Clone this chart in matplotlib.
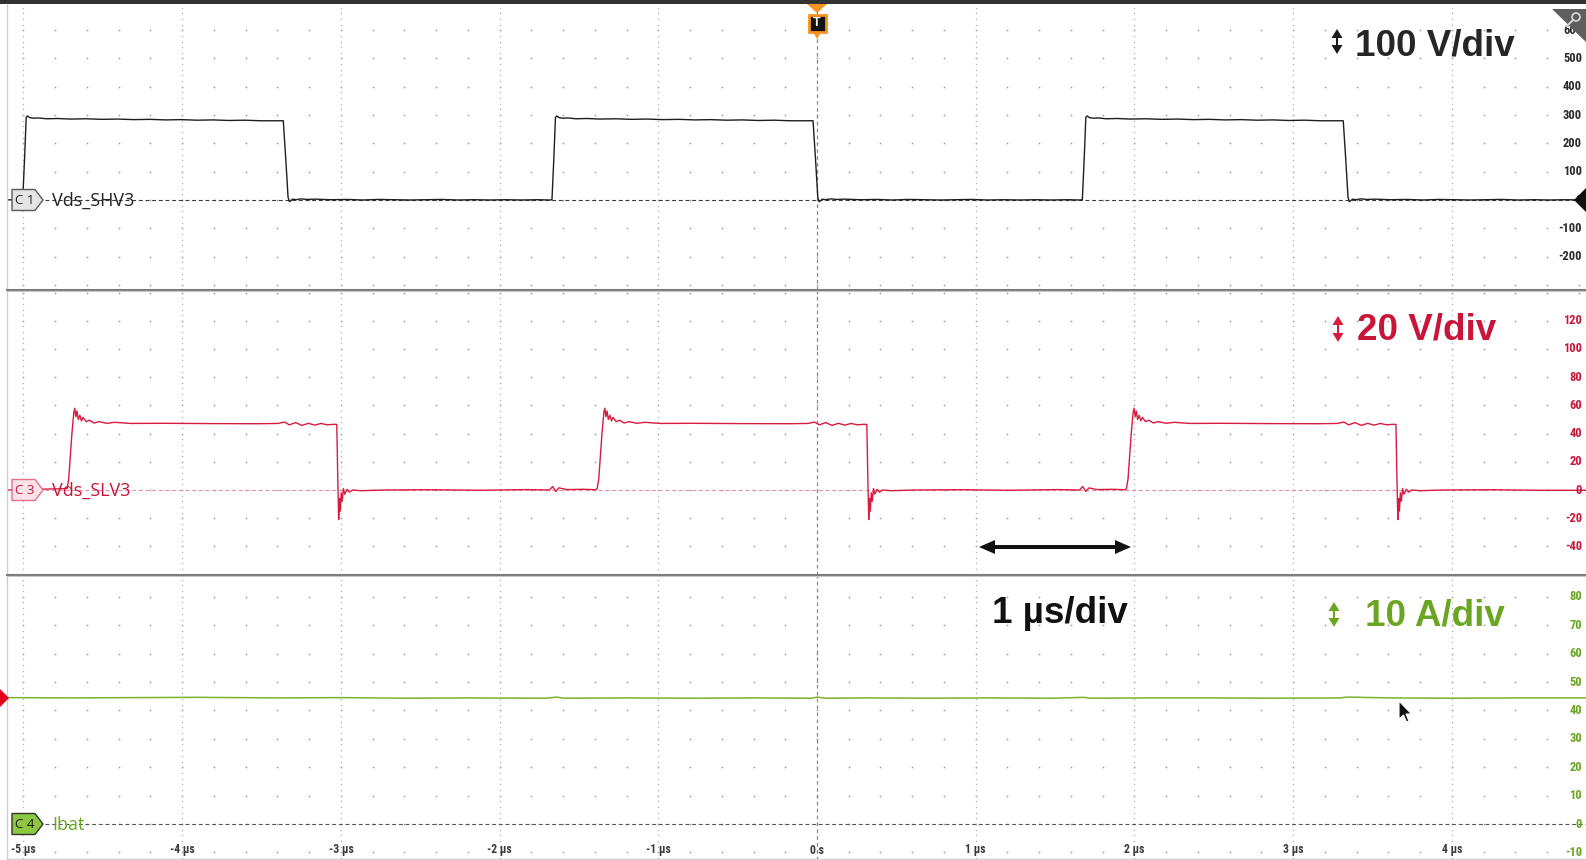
import numpy as np
import matplotlib
matplotlib.use('Agg')
import matplotlib.pyplot as plt
from matplotlib import font_manager, transforms
from matplotlib.patches import Polygon, Rectangle, Circle

# ---------------- data ----------------
x_tick_values_us = [-5, -4, -3, -2, -1, 0, 1, 2, 3, 4]
x_tick_labels = ['-5 µs', '-4 µs', '-3 µs', '-2 µs', '-1 µs', '0 s', '1 µs', '2 µs', '3 µs', '4 µs']

# C1  Vds_SHV3  (V)
c1_rise_times = [-5.005, -1.670, 1.672]
c1_fall_times = [-3.363, -0.025, 3.316]
c1_high_dt = [0.0, 0.012, 0.022, 0.03, 0.045, 0.07, 0.1, 0.15, 0.22, 0.3, 0.4, 0.5, 0.6,
              0.7, 0.8, 0.9, 1.0, 1.1, 1.2, 1.3, 1.4, 1.5, 1.6]
c1_high_v = [1, 150, 292, 297, 291, 289, 290, 287, 288, 286, 287, 285, 286,
             284, 285, 283, 284, 282, 283, 281, 282, 280, 280]
c1_low_dt = [0.0, 0.015, 0.03, 0.038, 0.048, 0.06, 0.08, 0.11, 0.15, 0.2, 0.3, 0.4, 0.5,
             0.6, 0.7, 0.8, 0.9, 1.0, 1.1, 1.2, 1.3, 1.4, 1.5, 1.6, 1.68]
c1_low_v = [280, 150, 10, -6, -2, 3, 1, 4, 2, 3, 1, 2, 0,
            2, 1, 0, 1, 2, 0, 1, 0, 1, 0, 1, 0]
c1_start_level = 0.5
c1_ticks = [600, 500, 400, 300, 200, 100, 0, -100, -200]

# C3  Vds_SLV3  (V)
c3_rise_times = [-4.725, -1.385, 1.950]
c3_fall_times = [-3.026, 0.314, 3.648]
c3_high_dt = [0.0, 0.01, 0.03, 0.042, 0.048, 0.055, 0.062, 0.07, 0.08, 0.09, 0.1, 0.12,
              0.14, 0.17, 0.2, 0.25, 0.3, 0.4, 0.6, 0.9, 1.2, 1.33, 1.37, 1.40, 1.44,
              1.48, 1.52, 1.56, 1.60, 1.64, 1.68]
c3_high_v = [1, 8, 40, 55, 58, 52, 56, 50, 53, 49, 51.5, 48.5,
             49.5, 47.5, 48.5, 47.3, 48, 47.2, 47.3, 47.1, 47.0, 47.2, 48.2, 46.2, 47.8,
             45.8, 47.3, 46.0, 47.2, 46.2, 46.6]
c3_low_dt = [0.0, 0.006, 0.012, 0.017, 0.022, 0.028, 0.034, 0.042, 0.05, 0.065, 0.08, 0.1,
             0.15, 0.3, 0.6, 0.9, 1.2, 1.34, 1.36, 1.38, 1.40, 1.45, 1.55, 1.63]
c3_low_v = [46.5, 10, -21, -6, -15, -2, -8, 1, -3, 0.5, -1.5, 0,
            -0.5, 0, 0.2, -0.2, 0.3, 0, 2.5, -1, 1.5, 0.3, 0.5, 0.2]
c3_start_level = 0.0
c3_ticks = [120, 100, 80, 60, 40, 20, 0, -20, -40]

# C4  Ibat  (A)
c4_t = [-5.1, -4.7, -4.3, -3.9, -3.4, -3.0, -2.6, -2.2, -1.7, -1.64, -1.6, -1.2, -0.8, -0.4,
        -0.03, 0.0, 0.05, 0.3, 0.7, 1.1, 1.5, 1.68, 1.72, 2.1, 2.5, 2.9, 3.3, 3.34, 3.6, 4.0,
        4.4, 4.85]
c4_i = [44.5, 44.4, 44.5, 44.6, 44.4, 44.5, 44.3, 44.4, 44.3, 44.7, 44.3, 44.4, 44.3, 44.4,
        44.3, 44.7, 44.3, 44.4, 44.3, 44.4, 44.3, 44.6, 44.3, 44.4, 44.4, 44.3, 44.4, 44.7,
        44.4, 44.3, 44.4, 44.4]
c4_ticks = [80, 70, 60, 50, 40, 30, 20, 10, 0, -10]

scale_labels = ['100 V/div', '20 V/div', '1 µs/div', '10 A/div']
channel_names = ['Vds_SHV3', 'Vds_SLV3', 'Ibat']
channel_badges = ['C 1', 'C 3', 'C 4']

# ---------------- fonts ----------------
avail = {f.name for f in font_manager.fontManager.ttflist}
def pick(*names):
    for n in names:
        if n in avail:
            return n
    return 'DejaVu Sans'
F_BIG = pick('Liberation Sans', 'Arial', 'DejaVu Sans')
F_NARROW = pick('Liberation Sans Narrow', 'Roboto Condensed', 'Liberation Sans')
F_LABEL = pick('Open Sans', 'Noto Sans', 'DejaVu Sans')

# ---------------- layout ----------------
W, H = 1586, 860
T0_PX, PX_PER_US = 817.0, 158.7
X_LEFT, X_RIGHT = 8, 1586
xlim = ((X_LEFT - T0_PX) / PX_PER_US, (X_RIGHT - T0_PX) / PX_PER_US)

# panel: (top px, bottom px, zero px, px per div, units per div)
panels = [
    (4.0, 289.5, 200.0, 28.3, 100.0),
    (289.5, 574.5, 490.0, 28.2, 20.0),
    (574.5, 860.0, 824.0, 28.4, 10.0),
]

C1_COL = '#1e1e1e'
C3_COL = '#d81b40'
C4_COL = '#7ab32e'
C3_TXT = '#c8163a'
C4_TXT = '#6aa621'

fig = plt.figure(figsize=(W / 100, H / 100), dpi=100)
fig.patch.set_facecolor('white')

axes = []
for (top, bot, zero, ppd, upd) in panels:
    ax = fig.add_axes([X_LEFT / W, 1 - bot / H, (X_RIGHT - X_LEFT) / W, (bot - top) / H])
    ylo = (zero - bot) / ppd * upd
    yhi = (zero - top) / ppd * upd
    ax.set_xlim(*xlim)
    ax.set_ylim(ylo, yhi)
    ax.set_xticks([]); ax.set_yticks([])
    for s in ax.spines.values():
        s.set_visible(False)
    ax.set_facecolor('white')
    axes.append(ax)
    # grid dots: horizontal rows at each division
    tdots = np.arange(-5.0, 4.85, 0.2)
    k0 = int(np.ceil(ylo / upd)); k1 = int(np.floor(yhi / upd))
    for k in range(k0, k1 + 1):
        ax.plot(tdots, np.full_like(tdots, k * upd), ls='none', marker='s', ms=1.1,
                mew=0, color='#9a9a9a', zorder=1)
    # vertical dotted lines at each microsecond
    ydots = np.arange(np.ceil(ylo / (upd * 0.2)) * upd * 0.2, yhi, upd * 0.2)
    for tv in x_tick_values_us:
        if tv == 0:
            ax.axvline(0, color='#8a8a8a', lw=0.9, ls=(0, (3, 2.5)), zorder=1)
        else:
            ax.plot(np.full_like(ydots, tv), ydots, ls='none', marker='s', ms=0.9,
                    mew=0, color='#b0b0b0', zorder=1)


def build_trace(t0, t1, rises, falls, hdt, hv, ldt, lv, start):
    events = sorted([(r, 1) for r in rises] + [(f, 0) for f in falls])
    ts, vs = [t0], [start]
    for i, (te, kind) in enumerate(events):
        tnext = events[i + 1][0] if i + 1 < len(events) else t1
        dts, vals = (hdt, hv) if kind == 1 else (ldt, lv)
        for dt, v in zip(dts, vals):
            if te + dt < tnext:
                ts.append(te + dt); vs.append(v)
    ts.append(t1); vs.append(vs[-1])
    return ts, vs

ax1, ax3, ax4 = axes
# zero reference dashed lines
ax1.plot([(45 - T0_PX) / PX_PER_US, xlim[1]], [0, 0], color='#3a3a3a', lw=0.8,
         ls=(0, (3.5, 2.5)), zorder=2)
ax3.plot([(45 - T0_PX) / PX_PER_US, xlim[1]], [0, 0], color='#e890a2', lw=0.8,
         ls=(0, (3.5, 2.5)), zorder=2)
ax4.plot([(45 - T0_PX) / PX_PER_US, xlim[1]], [0, 0], color='#555555', lw=0.8,
         ls=(0, (3.5, 2.5)), zorder=2)

t1s, v1s = build_trace(xlim[0], xlim[1], c1_rise_times, c1_fall_times,
                       c1_high_dt, c1_high_v, c1_low_dt, c1_low_v, c1_start_level)
ax1.plot(t1s, v1s, color=C1_COL, lw=1.0, zorder=3)
t3s, v3s = build_trace(xlim[0], xlim[1], c3_rise_times, c3_fall_times,
                       c3_high_dt, c3_high_v, c3_low_dt, c3_low_v, c3_start_level)
ax3.plot(t3s, v3s, color=C3_COL, lw=1.0, zorder=3)
ax4.plot(c4_t, c4_i, color=C4_COL, lw=1.1, zorder=3)

# ---------------- overlay ----------------
ov = fig.add_axes([0, 0, 1, 1])
ov.set_xlim(0, W); ov.set_ylim(H, 0)
ov.axis('off')
ov.patch.set_alpha(0)

# borders
ov.add_patch(Rectangle((0, 0), W, 4, facecolor='#333333', edgecolor='none'))
ov.plot([7, 7], [4, 858], color='#cfcfcf', lw=1.0)
ov.plot([7, W], [858.5, 858.5], color='#d0d0d0', lw=1.0)
for yy in (289.5, 574.5):
    ov.plot([7, W], [yy, yy], color='#7c7c7c', lw=1.5)
    ov.plot([7, W], [yy + 1.5, yy + 1.5], color='#c8c8c8', lw=0.8)

# right-side scale labels (units beyond the screen edge are not visible)
tick_lists = [c1_ticks, c3_ticks, c4_ticks]
tick_cols = ['#2a2a2a', C3_TXT, C4_TXT]
for ax, ticks, col in zip(axes, tick_lists, tick_cols):
    tr = transforms.blended_transform_factory(ov.transData, ax.transData)
    for v in ticks:
        ax.text(1582, v, f'{v}', transform=tr, ha='right', va='center', fontsize=9,
                fontweight='bold', family=F_NARROW, color=col, zorder=6, clip_on=False)

# x tick labels
tr4 = transforms.blended_transform_factory(ax4.transData, ov.transData)
for tv, lab in zip(x_tick_values_us, x_tick_labels):
    ov.text(tv, 850, lab, transform=tr4, ha='center', va='center', fontsize=8.5,
            fontweight='bold', family=F_NARROW, color='#3a3a3a')

# channel badges
def badge(y, fc, ec, txt, tc):
    pts = [(12, y - 10.5), (35, y - 10.5), (43, y), (35, y + 10.5), (12, y + 10.5)]
    ov.add_patch(Polygon(pts, closed=True, facecolor=fc, edgecolor=ec, lw=1.0,
                         joinstyle='round', zorder=8))
    ov.text(25, y, txt, ha='center', va='center', fontsize=9.5, color=tc,
            family=F_LABEL, zorder=9)

badge(200, '#e4e4e4', '#5a5a5a', channel_badges[0], '#222222')
badge(490, '#fde3e9', '#e5708a', channel_badges[1], C3_TXT)
badge(824, '#8dc63f', '#333333', channel_badges[2], '#1a1a1a')
ov.text(52, 201, channel_names[0], ha='left', va='center', fontsize=13, color='#222222',
        family=F_LABEL, zorder=9)
ov.text(52, 491, channel_names[1], ha='left', va='center', fontsize=13, color=C3_TXT,
        family=F_LABEL, zorder=9)
ov.text(52, 825, channel_names[2], ha='left', va='center', fontsize=13, color=C4_TXT,
        family=F_LABEL, zorder=9)

# vertical double arrows
def vdouble(x, ytop, ybot, col, hw=5.5, hh=9, sw=1.6):
    ov.add_patch(Polygon([(x - hw, ytop + hh), (x, ytop), (x + hw, ytop + hh)],
                         closed=True, facecolor=col, edgecolor='none', zorder=9))
    ov.add_patch(Polygon([(x - hw, ybot - hh), (x, ybot), (x + hw, ybot - hh)],
                         closed=True, facecolor=col, edgecolor='none', zorder=9))
    ov.add_patch(Rectangle((x - sw / 2, ytop + hh - 1), sw, (ybot - ytop) - 2 * hh + 2,
                           facecolor=col, edgecolor='none', zorder=9))

vdouble(1337, 29, 54, '#1a1a1a')
vdouble(1338, 316, 342, C3_COL)
vdouble(1334, 602, 627, C4_TXT)

ov.text(1355, 56, scale_labels[0], ha='left', va='baseline', fontsize=26.5,
        fontweight='bold', family=F_BIG, color='#262626', zorder=9)
ov.text(1357, 340, scale_labels[1], ha='left', va='baseline', fontsize=26.5,
        fontweight='bold', family=F_BIG, color=C3_TXT, zorder=9)
ov.text(992, 623, scale_labels[2], ha='left', va='baseline', fontsize=26.5,
        fontweight='bold', family=F_BIG, color='#111111', zorder=9)
ov.text(1365, 626, scale_labels[3], ha='left', va='baseline', fontsize=26.5,
        fontweight='bold', family=F_BIG, color=C4_TXT, zorder=9)

# horizontal double arrow (1 div)
ya = 547
ov.add_patch(Rectangle((990, ya - 1.6), 130, 3.2, facecolor='#111111', edgecolor='none', zorder=9))
ov.add_patch(Polygon([(979, ya), (995, ya - 7), (995, ya + 7)], closed=True,
                     facecolor='#111111', edgecolor='none', zorder=9))
ov.add_patch(Polygon([(1131, ya), (1115, ya - 7), (1115, ya + 7)], closed=True,
                     facecolor='#111111', edgecolor='none', zorder=9))

# trigger marker
ORG = '#f7931e'
ov.add_patch(Polygon([(807, 4), (827, 4), (817, 13)], closed=True, facecolor=ORG,
                     edgecolor='none', zorder=9))
ov.add_patch(Rectangle((808.5, 15), 17, 17, facecolor='#111111', edgecolor=ORG, lw=2, zorder=9))
ov.text(817, 23.5, 'T', ha='center', va='center', fontsize=9, fontweight='bold',
        color='white', family=F_BIG, zorder=10)
ov.add_patch(Polygon([(813, 32), (821, 32), (817, 39)], closed=True, facecolor=ORG,
                     edgecolor='none', zorder=9))

# top-right zoom icon
ov.add_patch(Polygon([(1552, 9), (1586, 9), (1586, 42)], closed=True, facecolor='#5e5e5e',
                     edgecolor='none', zorder=9))
ov.add_patch(Circle((1576, 17), 4, facecolor='none', edgecolor='#d8d8d8', lw=1.2, zorder=10))
ov.plot([1573, 1567], [20, 26], color='#d8d8d8', lw=1.4, zorder=10)

# offset marker (C1) at right, trigger-level marker at left
ov.add_patch(Polygon([(1586, 188), (1574, 200), (1586, 212)], closed=True,
                     facecolor='#111111', edgecolor='none', zorder=9))
ov.add_patch(Polygon([(0, 689), (9, 698), (0, 707)], closed=True,
                     facecolor='#e2001a', edgecolor='none', zorder=9))

# mouse pointer
cx, cy = 1399, 701
ptr = [(0, 0), (0, 18), (4.5, 14), (7.5, 21), (10, 20), (7, 13), (12.5, 13)]
ov.add_patch(Polygon([(cx + a, cy + b) for a, b in ptr], closed=True, facecolor='#111111',
                     edgecolor='white', lw=0.8, zorder=11))

fig.savefig('out.png', dpi=100)
